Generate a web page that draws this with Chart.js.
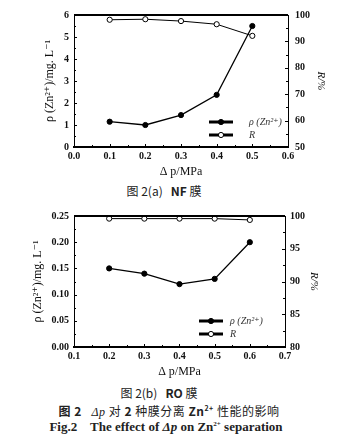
<!DOCTYPE html>
<html>
<head>
<meta charset="utf-8">
<script src="https://cdn.jsdelivr.net/npm/chart.js@4.4.1/dist/chart.umd.min.js"></script>
<style>
  body { margin: 0; background: #fff; width: 344px; height: 441px; position: relative; overflow: hidden; }
  canvas { position: absolute; left: 0; }
  .cap { position: absolute; left: 0; width: 344px; text-align: center; color: #222; white-space: pre; }
  .cn { font-family: "Noto Sans CJK SC", serif; font-size: 12px; }
  .en { font-family: "Liberation Serif", serif; font-size: 13px; font-weight: bold; }
</style>
</head>
<body>
<canvas id="nf_chart" width="344" height="180" style="top:0"></canvas>
<canvas id="ro_chart" width="344" height="180" style="top:200px"></canvas>
<div class="cap cn" style="top:182px; left:-8px">图 2(a)   <b>NF</b> 膜</div>
<div class="cap cn" style="top:384px; left:-13px">图 2(b)   <b>RO</b> 膜</div>
<div class="cap cn" style="top:402px; left:-3px; letter-spacing:0.5px"><b>图 2</b>   <i style="font-family:'Liberation Serif'">Δp</i> 对 <b>2</b> 种膜分离 <b>Zn<sup style="font-size:7px">2+</sup></b> 性能的影响</div>
<div class="cap en" style="top:419px; left:-6px">Fig.2    The effect of <i>Δp</i> on Zn<sup style="font-size:7px">2+</sup> separation</div>
<script>
// NF membrane
const nfPressure = [0.1, 0.2, 0.3, 0.4, 0.5];
const nfZn = [1.15, 1.0, 1.45, 2.37, 5.5];
const nfRejection = [98.2, 98.4, 97.7, 96.5, 92.1];

// RO membrane
const roPressure = [0.2, 0.3, 0.4, 0.5, 0.6];
const roZn = [0.15, 0.14, 0.12, 0.13, 0.2];
const roRejection = [99.6, 99.6, 99.6, 99.6, 99.4];

const serif = "'Liberation Serif', 'DejaVu Serif', serif";

const toPoints = (xs, ys) => xs.map((x, i) => ({ x, y: ys[i] }));

// inward tick marks, thick top edge and the hand drawn legend
const frameTicks = {
  id: "frameTicks",
  afterDraw(chart, args, opts) {
    const ctx = chart.ctx;
    const { left, right, top, bottom } = chart.chartArea;
    ctx.save();
    ctx.strokeStyle = "#000";

    ctx.lineWidth = 2;
    ctx.beginPath();
    ctx.moveTo(left, top);
    ctx.lineTo(right, top);
    ctx.stroke();

    ctx.lineWidth = 1;
    const marks = (scale, step, edge, dir, horizontal) => {
      for (let v = scale.min; v <= scale.max + 1e-9; v += step / 2) {
        const major = Math.abs(Math.round((v - scale.min) / step) * step - (v - scale.min)) < 1e-9;
        const len = major ? 3 : 2;
        const p = Math.round(scale.getPixelForValue(v)) + 0.5;
        ctx.beginPath();
        if (horizontal) {
          ctx.moveTo(p, edge);
          ctx.lineTo(p, edge + dir * len);
        } else {
          ctx.moveTo(edge, p);
          ctx.lineTo(edge + dir * len, p);
        }
        ctx.stroke();
      }
    };
    marks(chart.scales.y, opts.yStep, left, 1, false);
    marks(chart.scales.y1, opts.y1Step, right, -1, false);
    marks(chart.scales.x, opts.xStep, bottom, -1, true);

    // legend
    const lx = left + opts.legendX;
    const rows = [
      { y: bottom - opts.legendY[0], fill: "#000", label: "ρ (Zn²⁺)" },
      { y: bottom - opts.legendY[1], fill: "#fff", label: "R" },
    ];
    rows.forEach((row) => {
      ctx.lineWidth = 3;
      ctx.beginPath();
      ctx.moveTo(lx, row.y);
      ctx.lineTo(lx + 24, row.y);
      ctx.stroke();
      ctx.lineWidth = 1;
      ctx.fillStyle = row.fill;
      ctx.beginPath();
      ctx.arc(lx + 12, row.y, 2.6, 0, Math.PI * 2);
      ctx.fill();
      ctx.stroke();
      ctx.fillStyle = "#333";
      ctx.font = "italic 10px " + serif;
      ctx.textBaseline = "middle";
      ctx.fillText(row.label, lx + opts.textGap, row.y);
    });
    ctx.restore();
  },
};

const makeChart = (id, cfg) => {
  const tickFont = { family: serif, size: 10, weight: "bold" };
  new Chart(document.getElementById(id), {
    type: "line",
    data: {
      datasets: [
        {
          data: toPoints(cfg.pressure, cfg.zn),
          yAxisID: "y",
          borderColor: "#000",
          backgroundColor: "#000",
          borderWidth: 1.3,
          pointRadius: 2.6,
          pointBorderWidth: 1,
          pointBorderColor: "#000",
          pointBackgroundColor: "#000",
          tension: 0,
        },
        {
          data: toPoints(cfg.pressure, cfg.rejection),
          yAxisID: "y1",
          borderColor: "#000",
          backgroundColor: "#fff",
          borderWidth: 1,
          pointRadius: 2.6,
          pointBorderWidth: 1,
          pointBorderColor: "#000",
          pointBackgroundColor: "#fff",
          tension: 0,
        },
      ],
    },
    options: {
      responsive: false,
      animation: false,
      layout: { padding: { top: cfg.padTop, left: 0, right: 0, bottom: 0 } },
      scales: {
        x: {
          type: "linear",
          min: cfg.xMin,
          max: cfg.xMax,
          afterFit: (s) => { s.height = 33; },
          afterBuildTicks: (s) => {
            s.ticks = cfg.xTicks.map((v) => ({ value: v }));
          },
          ticks: {
            padding: 3,
            color: "#111",
            font: tickFont,
            callback: (v) => Number(v).toFixed(1),
            maxRotation: 0,
            autoSkip: false,
          },
          grid: { display: false, drawTicks: false },
          border: { color: "#000", width: 2 },
          title: {
            display: true,
            text: "Δ p/MPa",
            color: "#111",
            font: { family: serif, size: 12 },
            padding: { top: 0, bottom: 1 },
          },
        },
        y: {
          position: "left",
          min: cfg.yMin,
          max: cfg.yMax,
          afterFit: (s) => { s.width = 74; },
          afterBuildTicks: (s) => {
            s.ticks = cfg.yTicks.map((v) => ({ value: v }));
          },
          ticks: {
            padding: 5,
            color: "#111",
            font: tickFont,
            callback: (v) => Number(v).toFixed(cfg.yDigits),
          },
          grid: { display: false, drawTicks: false },
          border: { color: "#000", width: 1 },
          title: {
            display: true,
            text: "ρ (Zn²⁺)/mg. L⁻¹",
            color: "#111",
            font: { family: serif, size: 12 },
            padding: { top: cfg.yTitlePad, bottom: 0 },
          },
        },
        y1: {
          position: "right",
          min: cfg.rMin,
          max: cfg.rMax,
          afterFit: (s) => { s.width = cfg.rightWidth; },
          afterBuildTicks: (s) => {
            s.ticks = cfg.rTicks.map((v) => ({ value: v }));
          },
          ticks: {
            padding: cfg.rTickPad,
            color: "#111",
            font: tickFont,
          },
          grid: { display: false, drawTicks: false },
          border: { color: "#000", width: 1 },
          title: {
            display: true,
            text: "R/%",
            color: "#111",
            font: { family: serif, size: 11, style: "italic" },
            padding: { top: cfg.rTitlePad, bottom: 0 },
          },
        },
      },
      plugins: {
        legend: { display: false },
        tooltip: { enabled: false },
        frameTicks: {
          yStep: cfg.yTicks[1] - cfg.yTicks[0],
          y1Step: cfg.rTicks[1] - cfg.rTicks[0],
          xStep: 0.1,
          legendX: cfg.legendX,
          legendY: cfg.legendY,
          textGap: cfg.textGap,
        },
      },
    },
    plugins: [frameTicks],
  });
};

makeChart("nf_chart", {
  pressure: nfPressure,
  zn: nfZn,
  rejection: nfRejection,
  xMin: 0, xMax: 0.6, xTicks: [0, 0.1, 0.2, 0.3, 0.4, 0.5, 0.6],
  yMin: 0, yMax: 6, yTicks: [0, 1, 2, 3, 4, 5, 6], yDigits: 0,
  rMin: 50, rMax: 100, rTicks: [50, 60, 70, 80, 90, 100],
  padTop: 15, rightWidth: 56, yTitlePad: 43, rTitlePad: 17, rTickPad: 7,
  legendX: 135, legendY: [25, 12], textGap: 40,
});

makeChart("ro_chart", {
  pressure: roPressure,
  zn: roZn,
  rejection: roRejection,
  xMin: 0.1, xMax: 0.7, xTicks: [0.1, 0.2, 0.3, 0.4, 0.5, 0.6, 0.7],
  yMin: 0, yMax: 0.25, yTicks: [0, 0.05, 0.1, 0.15, 0.2, 0.25], yDigits: 2,
  rMin: 80, rMax: 100, rTicks: [80, 85, 90, 95, 100],
  padTop: 16, rightWidth: 59, yTitlePad: 31, rTitlePad: 24, rTickPad: 5,
  legendX: 125, legendY: [26, 13], textGap: 31,
});
</script>
</body>
</html>
